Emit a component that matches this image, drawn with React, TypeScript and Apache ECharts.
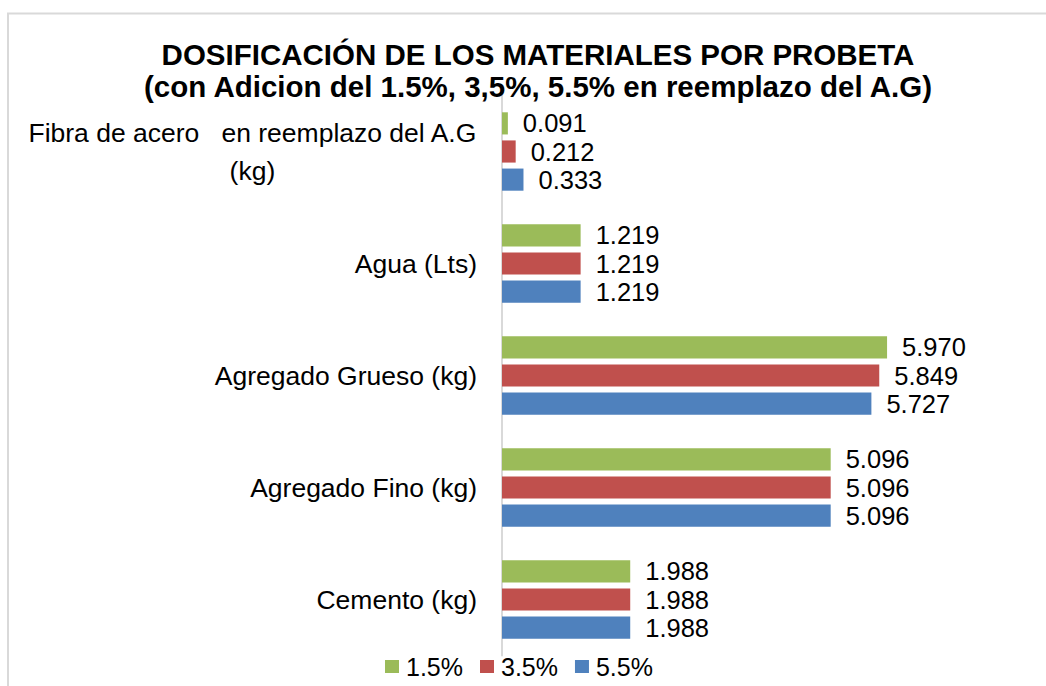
import React, { useEffect, useRef } from "react";
import * as echarts from "echarts";

const categories = [
  "Fibra de acero   en reemplazo del A.G (kg)",
  "Agua (Lts)",
  "Agregado Grueso (kg)",
  "Agregado Fino (kg)",
  "Cemento (kg)",
];
const seriesNames = ["1.5%", "3.5%", "5.5%"];
const values15 = [0.091, 1.219, 5.97, 5.096, 1.988];
const values35 = [0.212, 1.219, 5.849, 5.096, 1.988];
const values55 = [0.333, 1.219, 5.727, 5.096, 1.988];
const colors = ["#9BBB59", "#C0504D", "#4F81BD"];
const titleLines = [
  "DOSIFICACIÓN DE LOS MATERIALES POR PROBETA",
  "(con Adicion del 1.5%, 3,5%, 5.5% en reemplazo del A.G)",
];

const FONT = "'Liberation Sans', Arial, sans-serif";

export default function App() {
  const ref = useRef<HTMLDivElement>(null);
  useEffect(() => {
    if (!ref.current) return;
    const chart = echarts.init(ref.current, undefined, { renderer: "svg" });
    const allValues = [values15, values35, values55];
    const option: any = {
      animation: false,
      backgroundColor: "#ffffff",
      textStyle: { fontFamily: FONT },
      title: {
        text: titleLines.join("\n"),
        left: 533,
        textAlign: "center",
        top: 33,
        textStyle: {
          fontFamily: FONT,
          fontSize: 29.5,
          fontWeight: "bold",
          color: "#000000",
          lineHeight: 32,
        },
      },
      graphic: [
        {
          type: "rect",
          shape: { x: 8, y: 13.5, width: 1100, height: 700 },
          style: { fill: "none", stroke: "#d9d9d9", lineWidth: 2 },
          silent: true,
          z: -1,
        },
      ],
      legend: {
        data: seriesNames,
        top: 654,
        left: 385,
        padding: 0,
        icon: "rect",
        itemWidth: 14,
        itemHeight: 13,
        itemGap: 17,
        textStyle: {
          fontFamily: FONT,
          fontSize: 25,
          lineHeight: 25,
          color: "#000000",
          padding: [0, 0, 0, 2],
        },
      },
      grid: { left: 502, right: 28, top: 95.5, bottom: 30.5, containLabel: false },
      xAxis: {
        type: "value",
        min: 0,
        max: 8,
        show: false,
        splitLine: { show: false },
      },
      yAxis: {
        type: "category",
        data: categories,
        inverse: true,
        axisLine: { show: true, lineStyle: { color: "#d9d9d9", width: 2 } },
        axisTick: { show: false },
        axisLabel: {
          margin: 25,
          fontFamily: FONT,
          fontSize: 26.5,
          color: "#000000",
          formatter: (v: string) =>
            v === categories[0]
              ? "{a|Fibra de acero   en reemplazo del A.G}\n{a|(kg)}"
              : v,
          rich: {
            a: {
              align: "center",
              fontFamily: FONT,
              fontSize: 26.5,
              lineHeight: 38,
              color: "#000000",
            },
          },
        },
      },
      series: seriesNames.map((name, i) => ({
        name,
        type: "bar",
        data: allValues[i],
        barGap: "27%",
        barCategoryGap: "30%",
        itemStyle: { color: colors[i] },
        label: {
          show: true,
          position: "right",
          distance: 15,
          fontFamily: FONT,
          fontSize: 25.5,
          color: "#000000",
          formatter: (p: any) => Number(p.value).toFixed(3),
        },
      })),
    };
    chart.setOption(option);
    return () => chart.dispose();
  }, []);
  return (
    <div
      ref={ref}
      style={{ position: "fixed", left: 0, top: 0, width: 1046, height: 686 }}
    />
  );
}
